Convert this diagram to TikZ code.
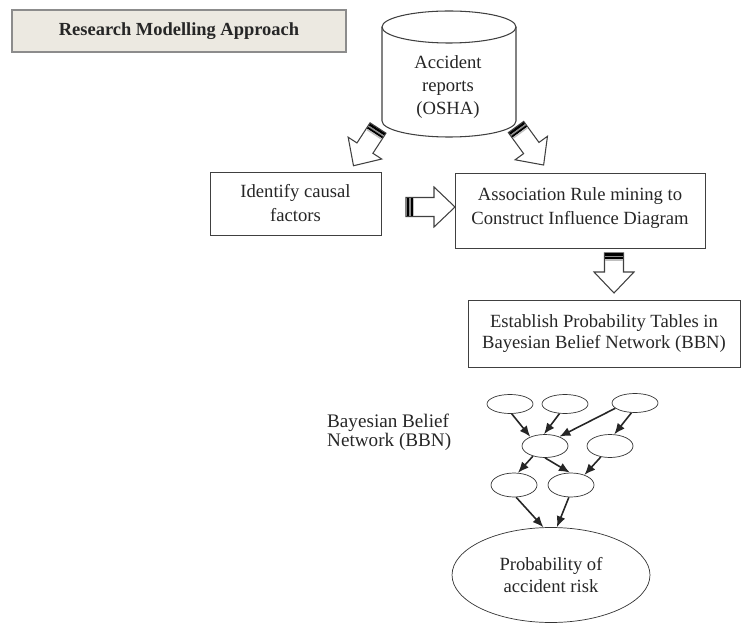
\documentclass[tikz,border=0pt]{standalone}
\usepackage{fontspec}
\setmainfont{Liberation Serif}
\usepackage{tikz}
\usetikzlibrary{shapes.geometric,arrows.meta}
\definecolor{bordo}{HTML}{8C8C8C}
\definecolor{beige}{HTML}{ECE9E1}
\definecolor{testo}{HTML}{262626}

\begin{document}
\begin{tikzpicture}[
      x=0.02cm, y=-0.02cm,
      every node/.style={font=\fontsize{10.6}{13.7}\selectfont, text=testo},
      box/.style={draw=black!75, align=center, inner sep=0pt},
      bbn/.style={ellipse, draw=black!80, minimum width=0.92cm, minimum height=0.46cm, inner sep=0pt},
      link/.style={-{Latex[length=2.2mm,width=1.8mm]}, line width=0.9pt, black!85},
      pics/blkarrow/.style={code={
          \draw[black!75, fill=white, line width=0.6pt] (0,-9.5) -- (#1-21,-9.5) -- (#1-21,-20) -- (#1,0)
            -- (#1-21,20) -- (#1-21,9.5) -- (0,9.5) -- cycle;
          \fill[black] (0.5,-9) rectangle (3,9);
          \fill[black!45] (3,-9) rectangle (4.5,9);
          \fill[black] (4.5,-9) rectangle (6.5,9);
          \fill[black!25] (6.5,-9) rectangle (8,9);
        }}
    ]
    \useasboundingbox (0,0) rectangle (746,624);

    % Titolo
    \node[box, draw=bordo, fill=beige, line width=0.8pt, minimum width=6.68cm, minimum height=0.84cm,
      font=\fontsize{10.5}{12}\selectfont\bfseries] (titolo) at (179,31) {Research Modelling Approach};

    % Database
    \draw[black!75, line width=0.6pt, fill=white] (382,27) -- (382,121)
      arc[start angle=180, end angle=0, x radius=67, y radius=16] -- (516,27);
    \draw[black!75, line width=0.6pt] (449,27) ellipse [x radius=67, y radius=16];
    \node[align=center, font=\fontsize{10.6}{13.1}\selectfont] (db) at (448,87) {Accident\\reports\\(OSHA)};

    \node[box, minimum width=3.42cm, minimum height=1.26cm] (cause) at (295.5,203.5) {Identify causal\\factors};
    \node[box, minimum width=5cm, minimum height=1.5cm] (regole) at (580,210.5) {};
    \node[align=center] (testoregole) at (580,208.5) {Association Rule mining to\\Construct Influence Diagram};
    \node[box, minimum width=5.44cm, minimum height=1.34cm, font=\fontsize{10.6}{11.5}\selectfont] (tabelle) at (604,333.5)
      {Establish Probability Tables in\\Bayesian Belief Network (BBN)};

    % Frecce a blocco
    \pic[rotate=-123] at (378,128) {blkarrow=45};
    \pic[rotate=-54] at (516,127) {blkarrow=47};
    \pic at (406,207) {blkarrow=49};
    \pic[rotate=-90] at (614,253) {blkarrow=40};

    % Rete BBN
    \node[align=left, anchor=west, font=\fontsize{10.9}{11}\selectfont] (etichetta) at (321,432) {Bayesian Belief\\Network (BBN)};
    \node[bbn, minimum height=0.38cm] (e1) at (510,404) {};
    \node[bbn, minimum height=0.38cm] (e2) at (565,404) {};
    \node[bbn, minimum height=0.38cm] (e3) at (635,403) {};
    \node[bbn] (e4) at (545,446) {};
    \node[bbn] (e5) at (610,446) {};
    \node[bbn, minimum height=0.48cm] (e6) at (514,485) {};
    \node[bbn, minimum height=0.48cm] (e7) at (571,485) {};
    \node[ellipse, draw=black!80, minimum width=3.96cm, minimum height=1.9cm, align=center,
      font=\fontsize{10.6}{12.5}\selectfont] (rischio) at (551,575) {Probability of\\accident risk};

    \draw[link] (e1.-80) -- (e4.148);
    \draw[link] (e2.-120) -- (e4.95);
    \draw[link] (e3.-165) -- (e4.33);
    \draw[link] (e3.-110) -- (e5.70);
    \draw[link] (e4.-140) -- (e6.72);
    \draw[link] (e4.-90) -- (e7.95);
    \draw[link] (e5.-130) -- (e7.37);
    \draw[link] (e6.-80) -- (rischio.99);
    \draw[link] (e7.-100) -- (rischio.83);
  \end{tikzpicture}
\end{document}
